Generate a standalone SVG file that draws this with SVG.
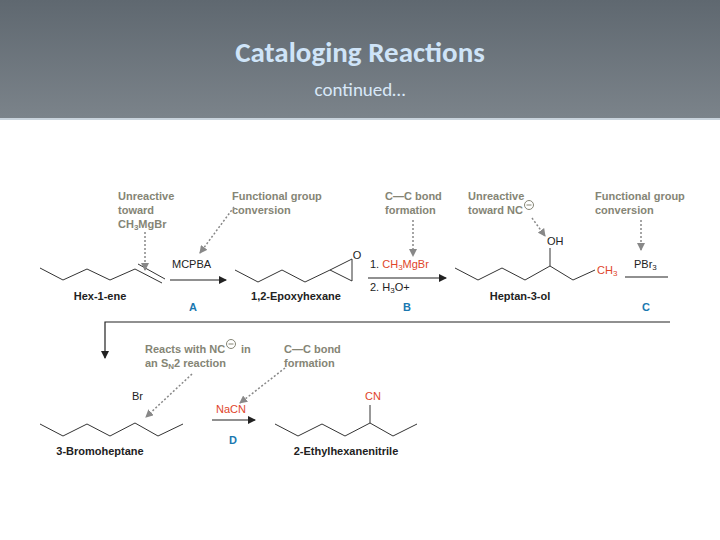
<svg xmlns="http://www.w3.org/2000/svg" width="720" height="540" viewBox="0 0 720 540">
<defs>
<linearGradient id="hd" x1="0" y1="0" x2="0" y2="1"><stop offset="0" stop-color="#5f6870"/><stop offset="1" stop-color="#7b838a"/></linearGradient>
<marker id="ah" markerWidth="8" markerHeight="8" refX="7" refY="4" orient="auto" markerUnits="userSpaceOnUse"><path d="M0,0 L8,4 L0,8 Z" fill="#222"/></marker>
<marker id="dh" markerWidth="8" markerHeight="8" refX="7" refY="4" orient="auto" markerUnits="userSpaceOnUse"><path d="M0,0 L8,4 L0,8 Z" fill="#888"/></marker>
<style>
.ann{font-family:"Liberation Sans",Arial,sans-serif;font-size:11px;font-weight:bold;fill:#858575}
.nm{font-family:"Liberation Sans",Arial,sans-serif;font-size:11px;font-weight:bold;fill:#222}
.rg{font-family:"Liberation Sans",Arial,sans-serif;font-size:11px;fill:#222}
.red{font-family:"Liberation Sans",Arial,sans-serif;font-size:11px;fill:#e0452a}
.lt{font-family:"Liberation Sans",Arial,sans-serif;font-size:11px;font-weight:bold;fill:#1a78b0}
.bond{fill:none;stroke:#333;stroke-width:1}
.arr{fill:none;stroke:#222;stroke-width:1.2}
.dash{fill:none;stroke:#888;stroke-width:1.5;stroke-dasharray:2,2}
.neg{fill:none;stroke:#858575;stroke-width:1}
</style>
</defs>
<rect width="720" height="540" fill="#fff"/>
<rect width="720" height="118" fill="url(#hd)"/>
<rect y="118" width="720" height="2" fill="#c9d3dc"/>
<text x="360" y="62" text-anchor="middle" font-family="Carlito,'Open Sans',sans-serif" font-size="29" font-weight="bold" fill="#cfe4f8">Cataloging Reactions</text>
<text x="360" y="96" text-anchor="middle" font-family="Carlito,'Open Sans',sans-serif" font-size="19" fill="#d8e8f8">continued…</text>

<g id="hexene">
<polyline class="bond" points="40,268 63,280 87,269 110,280 135,269 162,283"/>
<line class="bond" x1="138" y1="264" x2="165" y2="279"/>
<text class="nm" x="100" y="300" text-anchor="middle">Hex-1-ene</text>
</g>
<g id="epoxy">
<polyline class="bond" points="235,270 258,282 282,270 305,282 330,270"/>
<polygon class="bond" points="330,270 352,259 352,281"/>
<text class="rg" x="357" y="259" text-anchor="middle">O</text>
<text class="nm" x="296" y="300" text-anchor="middle">1,2-Epoxyhexane</text>
</g>
<g id="heptanol">
<polyline class="bond" points="455,268 478,280 502,268 525,280 550,266 573,280 595,270"/>
<line class="bond" x1="550" y1="266" x2="550" y2="248"/>
<text class="rg" x="547" y="245">OH</text>
<text class="red" x="597" y="274">CH<tspan font-size="8" dy="2">3</tspan></text>
<text class="nm" x="520" y="300" text-anchor="middle">Heptan-3-ol</text>
</g>
<g id="bromo">
<polyline class="bond" points="40,424 63,436 87,424 110,436 135,423 158,436 183,424"/>
<text class="rg" x="132" y="400">Br</text>
<text class="nm" x="100" y="455" text-anchor="middle">3-Bromoheptane</text>
</g>
<g id="nitrile">
<polyline class="bond" points="275,424 298,436 322,424 345,436 370,423 393,436 417,424"/>
<line class="bond" x1="370" y1="423" x2="370" y2="405"/>
<text class="red" x="365" y="400">CN</text>
<text class="nm" x="346" y="455" text-anchor="middle">2-Ethylhexanenitrile</text>
</g>
<g id="notes">
<text class="ann" x="118" y="200">Unreactive</text>
<text class="ann" x="118" y="214">toward</text>
<text class="ann" x="118" y="228">CH<tspan font-size="8" dy="2">3</tspan><tspan dy="-2">MgBr</tspan></text>
<text class="ann" x="232" y="200">Functional group</text>
<text class="ann" x="232" y="214">conversion</text>
<text class="ann" x="385" y="200">C—C bond</text>
<text class="ann" x="385" y="214">formation</text>
<text class="ann" x="468" y="200">Unreactive</text>
<text class="ann" x="468" y="214">toward NC</text>
<circle class="neg" cx="529" cy="205" r="4.5"/><line class="neg" x1="526.5" y1="205" x2="531.5" y2="205"/>
<text class="ann" x="595" y="200">Functional group</text>
<text class="ann" x="595" y="214">conversion</text>
<text class="ann" x="145" y="353">Reacts with NC</text>
<circle class="neg" cx="231" cy="344" r="4.5"/><line class="neg" x1="228.5" y1="344" x2="233.5" y2="344"/>
<text class="ann" x="241" y="353">in</text>
<text class="ann" x="145" y="367">an S<tspan font-size="8" dy="2">N</tspan><tspan dy="-2">2 reaction</tspan></text>
<text class="ann" x="284" y="353">C—C bond</text>
<text class="ann" x="284" y="367">formation</text>
</g>
<g id="reagents">
<text class="rg" x="172" y="268">MCPBA</text>
<text class="lt" x="193" y="311" text-anchor="middle">A</text>
<text class="rg" x="370" y="268">1. <tspan fill="#e0452a">CH<tspan font-size="8" dy="2">3</tspan><tspan dy="-2">MgBr</tspan></tspan></text>
<text class="rg" x="370" y="291">2. H<tspan font-size="8" dy="2">3</tspan><tspan dy="-2">O+</tspan></text>
<text class="lt" x="407" y="311" text-anchor="middle">B</text>
<text class="rg" x="634" y="268">PBr<tspan font-size="8" dy="2">3</tspan></text>
<text class="lt" x="646" y="311" text-anchor="middle">C</text>
<text class="red" x="216" y="413">NaCN</text>
<text class="lt" x="233" y="444" text-anchor="middle">D</text>
</g>
<g id="connectors">
<line class="arr" x1="170" y1="280" x2="226" y2="280" marker-end="url(#ah)"/>
<line class="arr" x1="368" y1="278" x2="446" y2="278" marker-end="url(#ah)"/>
<line class="arr" x1="625" y1="277" x2="668" y2="277"/>
<polyline class="arr" points="670,322 105,322 105,358" marker-end="url(#ah)"/>
<line class="arr" x1="212" y1="420" x2="255" y2="420" marker-end="url(#ah)"/>
<line class="dash" x1="145" y1="232" x2="145" y2="270" marker-end="url(#dh)"/>
<line class="dash" x1="234" y1="207" x2="200" y2="253" marker-end="url(#dh)"/>
<line class="dash" x1="413" y1="220" x2="413" y2="256" marker-end="url(#dh)"/>
<line class="dash" x1="532" y1="218" x2="545" y2="236" marker-end="url(#dh)"/>
<line class="dash" x1="641" y1="220" x2="641" y2="250" marker-end="url(#dh)"/>
<line class="dash" x1="192" y1="374" x2="146" y2="417" marker-end="url(#dh)"/>
<line class="dash" x1="285" y1="368" x2="240" y2="403" marker-end="url(#dh)"/>
</g>
</svg>
